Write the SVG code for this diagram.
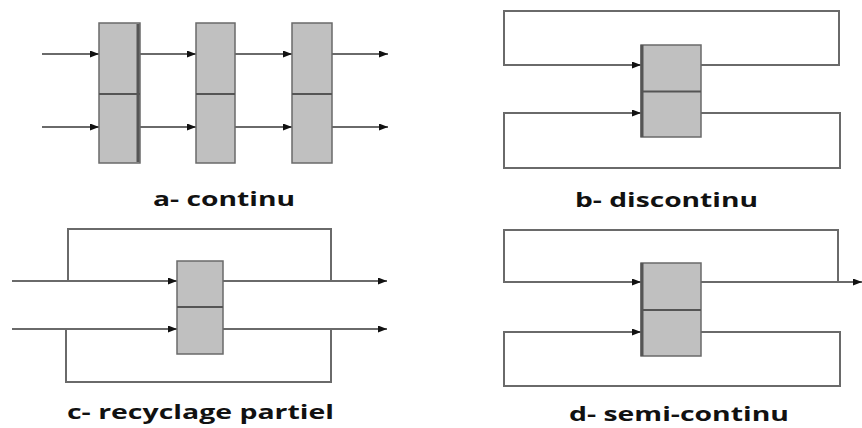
<svg xmlns="http://www.w3.org/2000/svg" width="862" height="428" viewBox="0 0 862 428">
  <defs>
    <marker id="arrow" markerUnits="userSpaceOnUse" markerWidth="10" markerHeight="8" refX="9" refY="3.5" orient="auto">
      <path d="M0,0 L9,3.5 L0,7 z" fill="#111"/>
    </marker>
  </defs>
  <style>
    .flow { fill: none; stroke: #6a6a6a; stroke-width: 2; }
    .flow-in { fill: none; stroke: #6a6a6a; stroke-width: 2; marker-end: url(#arrow); }
    .cell { fill: #c0c0c0; stroke: #6a6a6a; stroke-width: 1.5; }
    .edge { stroke: #555; stroke-width: 3; }
    .divider { stroke: #555; stroke-width: 1.8; }
    .label { font-family: "Open Sans", "Liberation Sans", sans-serif; font-weight: bold; font-size: 20px; fill: #111; }
  </style>
  <rect width="862" height="428" fill="#fff"/>

  <!-- connectors -->
  <g id="connectors">
    <!-- a: continuous cascade -->
    <line class="flow-in" x1="42" y1="54" x2="99" y2="54"/>
    <line class="flow-in" x1="140" y1="54" x2="196" y2="54"/>
    <line class="flow-in" x1="235" y1="54" x2="292" y2="54"/>
    <line class="flow-in" x1="332" y1="54" x2="388" y2="54"/>
    <line class="flow-in" x1="42" y1="127" x2="99" y2="127"/>
    <line class="flow-in" x1="140" y1="127" x2="196" y2="127"/>
    <line class="flow-in" x1="235" y1="127" x2="292" y2="127"/>
    <line class="flow-in" x1="332" y1="127" x2="388" y2="127"/>

    <!-- b: batch, both streams fully looped -->
    <path class="flow-in" d="M701,65 H839 V11 H504 V65 H641"/>
    <path class="flow-in" d="M701,113 H840 V168 H504 V113 H641"/>

    <!-- c: partial recycle -->
    <line class="flow-in" x1="12" y1="281" x2="177" y2="281"/>
    <line class="flow-in" x1="223" y1="281" x2="387" y2="281"/>
    <path class="flow" d="M331,281 V229 H68 V281"/>
    <line class="flow-in" x1="12" y1="329" x2="177" y2="329"/>
    <line class="flow-in" x1="223" y1="329" x2="387" y2="329"/>
    <path class="flow" d="M66,329 V382 H331 V329"/>

    <!-- d: semi-continuous -->
    <path class="flow-in" d="M701,282 H838 V230 H504 V282 H641"/>
    <line class="flow-in" x1="838" y1="282" x2="862" y2="282"/>
    <path class="flow-in" d="M701,332 H840 V386 H504 V332 H641"/>
  </g>

  <!-- a- continu -->
  <g id="a-stage1">
    <rect class="cell" x="99" y="23" width="41" height="140"/>
    <line class="edge" x1="138" y1="24" x2="138" y2="162"/>
    <line class="divider" x1="99" y1="94" x2="140" y2="94"/>
  </g>
  <g id="a-stage2">
    <rect class="cell" x="196" y="23" width="39" height="140"/>
    <line class="divider" x1="196" y1="94" x2="235" y2="94"/>
  </g>
  <g id="a-stage3">
    <rect class="cell" x="292" y="23" width="40" height="140"/>
    <line class="divider" x1="292" y1="94" x2="332" y2="94"/>
  </g>
  <text class="label" x="153" y="206" textLength="142" lengthAdjust="spacingAndGlyphs">a- continu</text>

  <!-- b- discontinu -->
  <g id="b-unit">
    <rect class="cell" x="641" y="45" width="60" height="92"/>
    <line class="edge" x1="642" y1="45" x2="642" y2="137"/>
    <line class="divider" x1="641" y1="91.5" x2="701" y2="91.5"/>
  </g>
  <text class="label" x="575" y="206.5" textLength="183" lengthAdjust="spacingAndGlyphs">b- discontinu</text>

  <!-- c- recyclage partiel -->
  <g id="c-unit">
    <rect class="cell" x="177" y="261" width="46" height="93"/>
    <line class="divider" x1="177" y1="307" x2="223" y2="307"/>
  </g>
  <text class="label" x="67" y="419" textLength="267" lengthAdjust="spacingAndGlyphs">c- recyclage partiel</text>

  <!-- d- semi-continu -->
  <g id="d-unit">
    <rect class="cell" x="641" y="263" width="60" height="93"/>
    <line class="edge" x1="642" y1="263" x2="642" y2="356"/>
    <line class="divider" x1="641" y1="310" x2="701" y2="310"/>
  </g>
  <text class="label" x="569" y="421" textLength="220" lengthAdjust="spacingAndGlyphs">d- semi-continu</text>
</svg>
